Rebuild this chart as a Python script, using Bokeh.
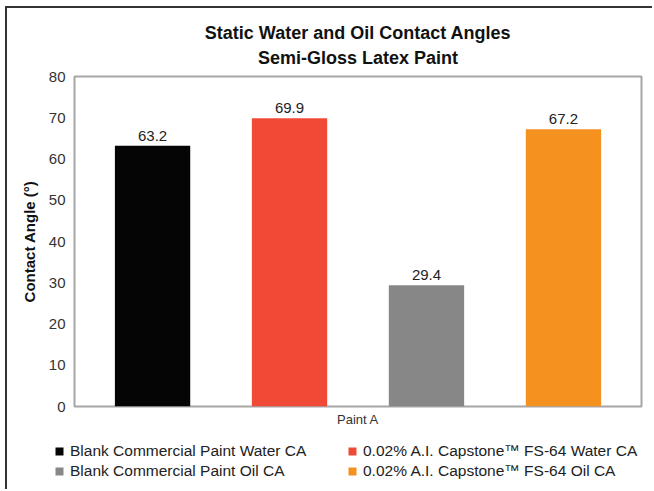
from bokeh.plotting import figure
from bokeh.models import (ColumnDataSource, FactorRange, Range1d, Title, Legend, LegendItem,
                          FixedTicker)
from bokeh.layouts import column
from bokeh.core.properties import value
from bokeh.embed import file_html
from bokeh.resources import INLINE

series = ["Blank Commercial Paint Water CA", "0.02% A.I. Capstone\u2122 FS-64 Water CA",
          "Blank Commercial Paint Oil CA", "0.02% A.I. Capstone\u2122 FS-64 Oil CA"]
values = [63.2, 69.9, 29.4, 67.2]
colors = ["#050505", "#f04a37", "#878787", "#f5921f"]
labels = ["63.2", "69.9", "29.4", "67.2"]
y_ticks = [0, 10, 20, 30, 40, 50, 60, 70, 80]
legend_order = [0, 1, 2, 3]
group_label = "Paint A"
title_line1 = "Static Water and Oil Contact Angles"
title_line2 = "Semi-Gloss Latex Paint"

src = ColumnDataSource(dict(series=series, value=values, color=colors, label=labels))

FONT = "Liberation Sans"
p = figure(width=645, height=424, output_backend="svg", toolbar_location=None,
           x_range=FactorRange(factors=series, range_padding=0.035),
           y_range=Range1d(0, 80),
           min_border_left=67, min_border_right=11, min_border_top=68, min_border_bottom=26)
p.title.visible = False
t2 = Title(text=title_line2, align="center", text_font=FONT, text_font_size="18px",
           text_font_style="bold", text_color="#111111", standoff=17)
t1 = Title(text=title_line1, align="center", text_font=FONT, text_font_size="18px",
           text_font_style="bold", text_color="#111111", standoff=0)
try:
    t1.standoff = -11
except Exception:
    t1.standoff = 0
p.add_layout(t2, "above")
p.add_layout(t1, "above")

p.outline_line_color = "#a6a6a6"
p.outline_line_width = 2
p.xgrid.visible = False
p.ygrid.visible = False

p.yaxis.ticker = FixedTicker(ticks=y_ticks)
p.yaxis.axis_line_color = None
p.yaxis.major_tick_line_color = None
p.yaxis.minor_tick_line_color = None
p.yaxis.major_label_text_font = FONT
p.yaxis.major_label_text_font_size = "15px"
p.yaxis.major_label_text_color = "#333333"
p.yaxis.major_label_standoff = 3
p.yaxis.axis_label = "Contact Angle (\u00b0)"
p.yaxis.axis_label_text_font = FONT
p.yaxis.axis_label_text_font_size = "15px"
p.yaxis.axis_label_text_font_style = "bold"
p.yaxis.axis_label_text_color = "#111111"
p.yaxis.axis_label_standoff = 8

p.xaxis.visible = False
p.add_layout(Title(text=group_label, align="center", text_font=FONT, text_font_size="13px",
                   text_font_style="normal", text_color="#333333", standoff=6), "below")

p.vbar(x="series", top="value", width=0.55, fill_color="color", line_color=None, source=src)
p.text(x="series", y="value", text="label", source=src, text_align="center",
       text_baseline="bottom", y_offset=-5, text_font=value(FONT),
       text_font_size="15px", text_color="#222222")

# legend strip below the chart
lf = figure(width=645, height=57, output_backend="svg", toolbar_location=None,
            x_range=FactorRange(factors=series), y_range=Range1d(1000, 1001),
            min_border_left=0, min_border_right=0, min_border_top=0, min_border_bottom=0)
for fig in (p, lf):
    if "frame_align" in fig.properties():
        fig.frame_align = False
lf.title.visible = False
lf.axis.visible = False
lf.grid.visible = False
lf.outline_line_color = None
lr = lf.vbar(x="series", top="value", width=0.55, fill_color="color", line_color=None, source=src)
items = [LegendItem(label=series[i], renderers=[lr], index=i) for i in legend_order]
leg = Legend(items=items, location=(47, 9), orientation="horizontal", ncols=2,
             padding=0, margin=0, spacing=2, label_standoff=6, label_width=275,
             glyph_width=10, glyph_height=10, label_height=18,
             label_text_font=FONT, label_text_font_size="15.5px", label_text_color="#222222",
             border_line_color=None, background_fill_alpha=0)
lf.add_layout(leg, "center")

layout = column(p, lf, spacing=0)
layout.styles = {"margin-left": "5px", "margin-top": "6px",
                 "border-left": "2px solid #333333", "border-top": "2px solid #333333"}
open("out.html", "w").write(file_html(layout, INLINE))
